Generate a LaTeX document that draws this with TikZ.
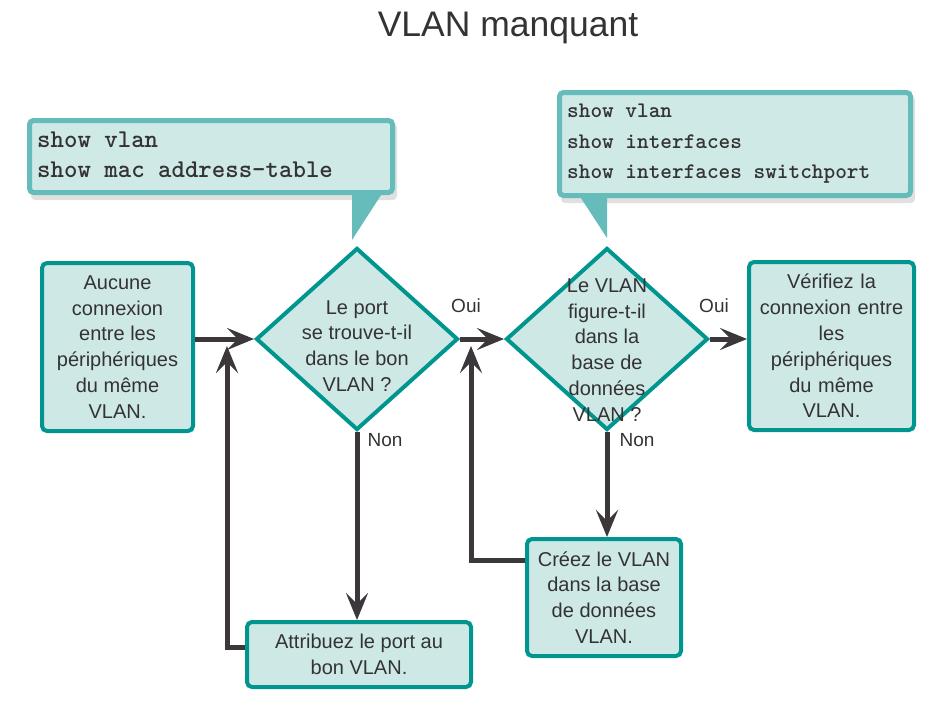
\documentclass[tikz,border=0pt]{standalone}
\usepackage{fontspec}
\setmainfont{Liberation Sans}
\usetikzlibrary{arrows.meta,shapes.geometric}
\definecolor{boxfill}{HTML}{CEE8E6}
\definecolor{boxborder}{HTML}{00968F}
\definecolor{callb}{HTML}{66BCBA}
\definecolor{callf}{HTML}{CFE9E7}
\definecolor{arrowc}{HTML}{3B373A}
\definecolor{txt}{HTML}{333333}
\definecolor{shadowc}{HTML}{E0E0E0}
\begin{document}
\begin{tikzpicture}[x=1pt,y=-1pt,
  box/.style={draw=boxborder,fill=boxfill,line width=4pt,rounded corners=5pt,inner sep=0pt,align=center,text=txt,font=\fontsize{20}{25.8}\selectfont},
  dia/.style={diamond,draw=boxborder,fill=boxfill,line width=4pt,inner sep=0pt,minimum width=202pt,minimum height=182pt},
  diatext/.style={align=center,text=txt,inner sep=0pt,font=\fontsize{20}{25.8}\selectfont},
  arr/.style={draw=arrowc,line width=5pt,-{Stealth[length=27pt,width=22pt,inset=11pt]}},
  lab/.style={font=\fontsize{19}{22}\selectfont,text=txt,inner sep=0pt},
  callout/.style={draw=callb,fill=callf,line width=5pt,rounded corners=4pt,inner sep=0pt},
  cmd/.style={align=left,text=txt,inner sep=0pt}
]
\useasboundingbox (0,0) rectangle (951,715);

% title
\node[text=txt,font=\fontsize{35.5}{40}\selectfont] (title) at (508,28) {VLAN manquant};

% callout 1
\fill[shadowc,rounded corners=4pt] (31,124) rectangle (397,200);
\node[callout,minimum width=363pt,minimum height=72pt] (c1) at (211,156.5) {};
\fill[callb] (352,192) -- (383,192) -- (352,240) -- cycle;
\node[cmd,anchor=west,font=\ttfamily\bfseries\fontsize{25.6}{30}\selectfont] (c1t) at (37,155) {show vlan\\show mac address-table};

% callout 2
\fill[shadowc,rounded corners=4pt] (561,96) rectangle (915,203);
\node[callout,minimum width=351pt,minimum height=103pt] (c2) at (735,144) {};
\fill[callb] (579,195) -- (607,195) -- (607,238) -- cycle;
\node[cmd,anchor=west,font=\ttfamily\bfseries\fontsize{22.2}{30.5}\selectfont] (c2t) at (567,144) {show vlan\\show interfaces\\show interfaces switchport};

% boxes
\node[box,minimum width=151pt,minimum height=168pt] (b1) at (117.5,347) {Aucune\\connexion\\entre les\\périphériques\\du même\\VLAN.};
\node[box,minimum width=161pt,minimum height=168pt,text width=165pt] (b4) at (831.5,346) {Vérifiez la\\connexion entre\\les\\périphériques\\du même\\VLAN.};
\node[box,minimum width=224pt,minimum height=65pt] (b2) at (359,654.5) {Attribuez le port au\\bon VLAN.};
\node[box,minimum width=154pt,minimum height=117pt] (b3) at (604,597.5) {Créez le VLAN\\dans la base\\de données\\VLAN.};

% diamonds
\node[dia] (d1) at (357,339) {};
\node[diatext] (d1t) at (357,346) {Le port\\se trouve-t-il\\dans le bon\\VLAN ?};
\node[dia] (d2) at (607,339) {};
\node[diatext] (d2t) at (607,350) {Le VLAN\\figure-t-il\\dans la\\base de\\données\\VLAN ?};

% connectors
\coordinate (fb1) at (227,346);
\coordinate (fb2) at (471,346);
\draw[arr] (b1.east |- d1.west) -- (d1.west);
\draw[arr] (d1.east) -- (d2.west);
\draw[arr] (d2.east) -- (d2.east -| b4.west);
\draw[arr] (d1.south) -- (d1.south |- b2.north);
\draw[arr] (d2.south) -- (d2.south |- b3.north);
\draw[arr] ([yshift=7.5pt]b2.west) -| (fb1);
\draw[arr] ([yshift=37.5pt]b3.west) -| (fb2);

% labels
\node[lab] (l1) at (466,306) {Oui};
\node[lab] (l2) at (714,306) {Oui};
\node[lab] (l3) at (385,440) {Non};
\node[lab] (l4) at (637,440) {Non};
\end{tikzpicture}
\end{document}
